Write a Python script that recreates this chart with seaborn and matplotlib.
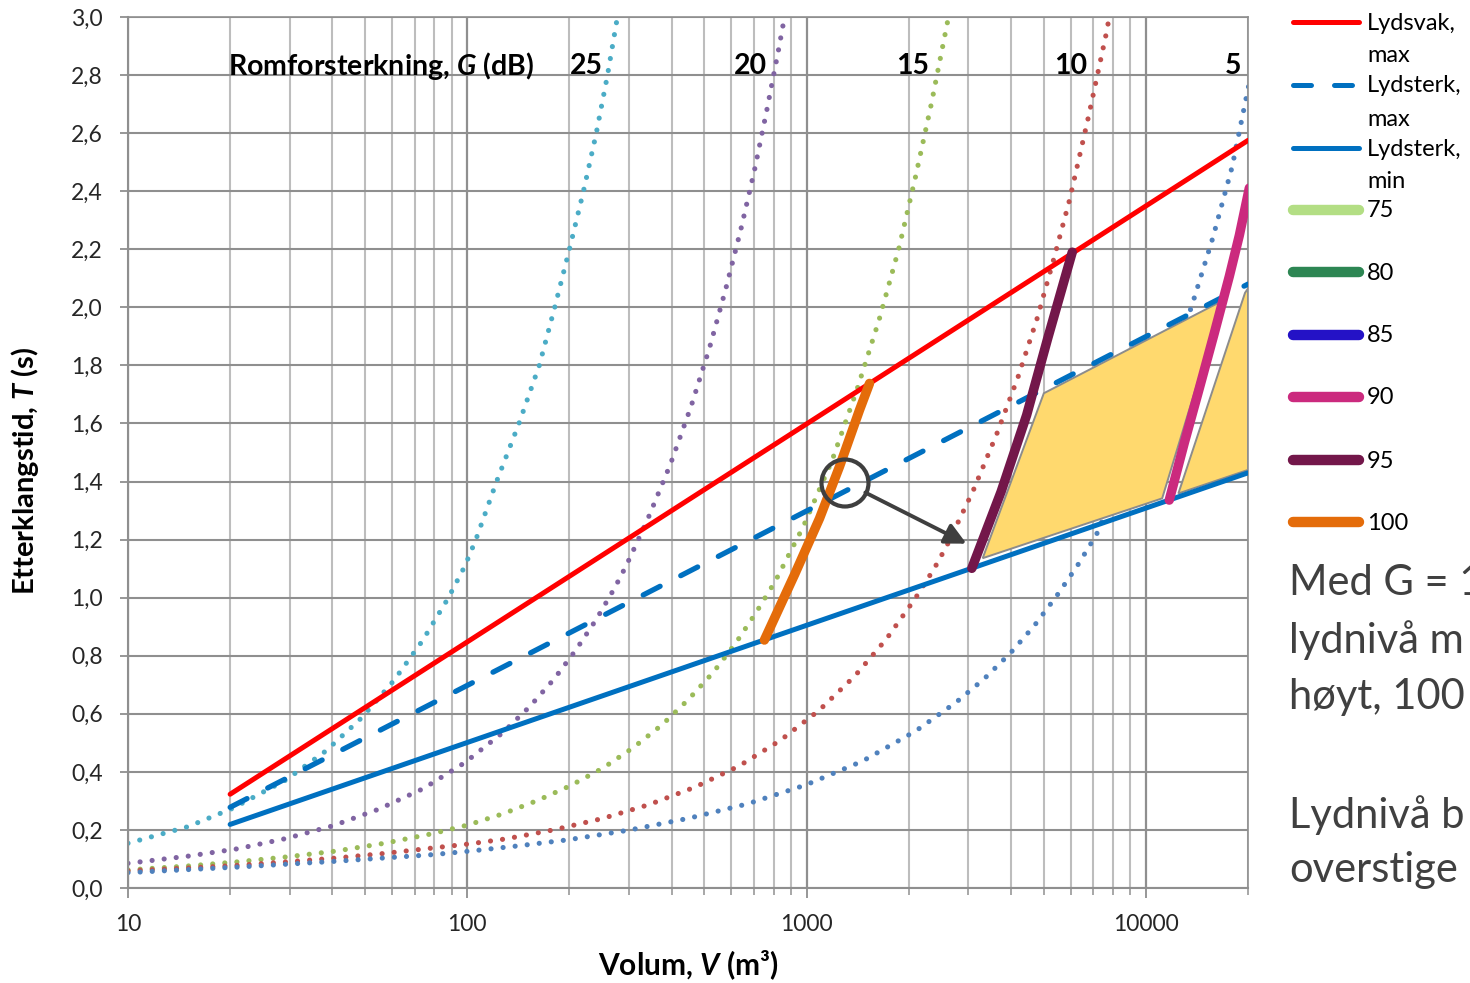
import numpy as np
import pandas as pd
import matplotlib
matplotlib.use("Agg")
import matplotlib.pyplot as plt
import seaborn as sns
from matplotlib.patches import Polygon, Ellipse
from matplotlib.lines import Line2D
from matplotlib.ticker import FixedLocator, FuncFormatter, NullFormatter

sns.set_theme(style="white")
plt.rcParams["font.family"] = ["Lato", "DejaVu Sans"]
plt.rcParams["mathtext.fontset"] = "custom"
plt.rcParams["mathtext.it"] = "Lato:italic:bold"
plt.rcParams["mathtext.rm"] = "Lato:bold"
plt.rcParams["mathtext.bf"] = "Lato:bold"

# ---------------- data ----------------
# Room gain curves G = 25, 20, 15, 10, 5 dB  (volume V in m3, reverberation time T in s)
g25_v = [10, 15, 20.3, 29.2, 38.3, 49, 60.7, 73.8, 87.7, 98.4, 106, 122, 142, 163, 181, 200, 220, 240, 259, 277]
g25_t = [0.154, 0.211, 0.274, 0.372, 0.472, 0.588, 0.714, 0.852, 0.997, 1.109, 1.2, 1.4, 1.6, 1.8, 2.0, 2.2, 2.4, 2.6, 2.8, 3.0]

g20_v = [10, 15.1, 21, 29.1, 40.1, 54.7, 74.1, 98.4, 127.5, 152.5, 180, 209, 240, 272, 294, 339, 397, 457, 518, 578, 640, 703, 764, 827, 861]
g20_t = [0.085, 0.110, 0.135, 0.170, 0.214, 0.271, 0.342, 0.432, 0.536, 0.624, 0.719, 0.820, 0.925, 1.034, 1.110, 1.266, 1.46, 1.66, 1.862, 2.064, 2.268, 2.475, 2.681, 2.888, 3.0]

g15_v = [10, 15.1, 21, 29.3, 40.9, 56.9, 78.8, 100.4, 127, 160.7, 201, 251, 308, 375, 449, 531, 618, 711, 809, 979, 1190, 1409, 1636, 1870, 2095, 2329, 2620]
g15_t = [0.062, 0.076, 0.090, 0.107, 0.127, 0.154, 0.187, 0.217, 0.255, 0.301, 0.352, 0.413, 0.483, 0.562, 0.650, 0.743, 0.843, 0.950, 1.057, 1.246, 1.474, 1.718, 1.957, 2.202, 2.450, 2.698, 3.0]

g10_v = [10, 15.1, 21, 29.3, 40.9, 56.9, 79.3, 101.6, 129.7, 181, 249.6, 343, 468, 632, 838, 1089, 1387, 1720, 2090, 2377, 2588, 3096, 3633, 4200, 4782, 5349, 5958, 6776, 7656, 7800]
g10_t = [0.059, 0.069, 0.078, 0.090, 0.103, 0.119, 0.138, 0.152, 0.169, 0.201, 0.239, 0.287, 0.347, 0.420, 0.509, 0.612, 0.730, 0.858, 0.997, 1.100, 1.178, 1.368, 1.563, 1.760, 1.962, 2.165, 2.370, 2.657, 2.947, 3.0]

g5_v = [10, 21, 40.9, 79.3, 101.6, 141, 198, 298.5, 449, 671, 995, 1462, 2099, 2761, 3334, 3988, 4701, 5458, 6282, 7163, 13590, 15740, 17950, 20180]
g5_t = [0.053, 0.072, 0.092, 0.115, 0.127, 0.145, 0.166, 0.199, 0.240, 0.290, 0.355, 0.437, 0.541, 0.640, 0.720, 0.809, 0.905, 1.006, 1.110, 1.219, 1.997, 2.238, 2.483, 2.774]

gain_labels = ["25", "20", "15", "10", "5"]
gain_label_v = [251, 765, 2300, 6700, 19100]

# Limit lines
lim_v = [20, 20000]
lydsvak_max_t = [0.323, 2.575]
lydsterk_max_t = [0.278, 2.080]
lydsterk_min_t = [0.219, 1.430]

# Sound level segments (dB)
seg100_v = [751, 923, 1092, 1250, 1432, 1533]
seg100_t = [0.854, 1.081, 1.273, 1.451, 1.646, 1.738]
seg95_v = [3069, 3744, 4453, 5137, 6068]
seg95_t = [1.101, 1.365, 1.629, 1.893, 2.190]
seg90_v = [11720, 12980, 14380, 15910, 17620, 18860, 20180]
seg90_t = [1.336, 1.533, 1.722, 1.911, 2.107, 2.248, 2.411]

# Highlighted areas
area1_v = [3304, 5003, 16830, 11170]
area1_t = [1.136, 1.704, 2.023, 1.342]
area2_v = [12470, 19600, 20000, 20000]
area2_t = [1.359, 2.050, 2.065, 1.440]

legend_labels = [["Lydsvak,", "max"], ["Lydsterk,", "max"], ["Lydsterk,", "min"],
                 ["75"], ["80"], ["85"], ["90"], ["95"], ["100"]]
side_text = ["Med G = 1", "lydnivå m", "høyt, 100", "", "Lydnivå b", "overstige"]

# ---------------- styling ----------------
c_g = {"25": "#4BACC6", "20": "#8064A2", "15": "#9BBB59", "10": "#C0504D", "5": "#4F81BD"}
c_red = "#FF0000"
c_blue = "#0070C0"
c_75, c_80, c_85, c_90, c_95, c_100 = "#B3DE84", "#2D8653", "#2412C6", "#CB2A7E", "#73174A", "#E46C0A"

W, H = 1470, 983
fig = plt.figure(figsize=(W / 100, H / 100), dpi=100)
fig.patch.set_facecolor("white")
L, R, TOP, BOT = 128, 1248, 17, 888
ax = fig.add_axes([L / W, 1 - BOT / H, (R - L) / W, (BOT - TOP) / H])
ax.set_facecolor("white")
ax.set_xscale("log")
ax.set_xlim(10, 20000)
ax.set_ylim(0, 3.0)

# grid
ax.yaxis.set_major_locator(FixedLocator(np.round(np.arange(0, 3.01, 0.2), 1)))
ax.xaxis.set_major_locator(FixedLocator([10, 100, 1000, 10000]))
minors = [m * 10 ** e for e in range(1, 5) for m in range(2, 10) if m * 10 ** e <= 20000]
ax.xaxis.set_minor_locator(FixedLocator(minors))
ax.xaxis.set_minor_formatter(NullFormatter())
ax.grid(True, which="major", axis="y", color="#8F8F8F", lw=1.5, zorder=0)
ax.grid(True, which="major", axis="x", color="#8F8F8F", lw=1.6, zorder=0)
ax.grid(True, which="minor", axis="x", color="#BDBDBD", lw=1.5, zorder=0)
ax.set_axisbelow(True)
for s in ["left", "bottom"]:
    ax.spines[s].set_color("#8F8F8F")
    ax.spines[s].set_linewidth(1.5)
for s in ["top", "right"]:
    ax.spines[s].set_color("#8F8F8F")
    ax.spines[s].set_linewidth(1.2)

ax.yaxis.set_major_formatter(FuncFormatter(lambda v, p: f"{v:.1f}".replace(".", ",")))
ax.xaxis.set_major_formatter(FuncFormatter(lambda v, p: f"{int(round(v))}"))
ax.tick_params(axis="y", which="major", direction="out", length=6, width=1.3, color="#8F8F8F",
               labelsize=16.5, labelcolor="#262626", pad=12, left=True)
ax.tick_params(axis="x", which="major", direction="out", length=7, width=1.3, color="#8F8F8F",
               labelsize=16.5, labelcolor="#262626", pad=12, bottom=True)
ax.tick_params(axis="x", which="minor", direction="out", length=5, width=1.1, color="#8F8F8F", bottom=True)

# dotted room-gain curves
dot_style = dict(lw=3.7, linestyle=(0, (0.01, 2.35)), dash_capstyle="round", sort=False, estimator=None)
for key, vv, tt in [("25", g25_v, g25_t), ("20", g20_v, g20_t), ("15", g15_v, g15_t),
                    ("10", g10_v, g10_t), ("5", g5_v, g5_t)]:
    df = pd.DataFrame({"V": vv, "T": tt})
    sns.lineplot(data=df, x="V", y="T", ax=ax, color=c_g[key], zorder=2, **dot_style)

# highlighted areas
for av, at in [(area1_v, area1_t), (area2_v, area2_t)]:
    ax.add_patch(Polygon(list(zip(av, at)), closed=True, fc="#FFD96E", ec="#8C8C8C", lw=1.4, zorder=3))

# limit lines
sns.lineplot(x=lim_v, y=lydsvak_max_t, ax=ax, color=c_red, lw=3.6, zorder=4)
sns.lineplot(x=lim_v, y=lydsterk_max_t, ax=ax, color=c_blue, lw=3.8, zorder=4,
             linestyle=(0, (3.6, 4.4)), dash_capstyle="round")
sns.lineplot(x=lim_v, y=lydsterk_min_t, ax=ax, color=c_blue, lw=3.6, zorder=4)

# level segments
thick = dict(lw=6.8, solid_capstyle="round", solid_joinstyle="round", sort=False, estimator=None, zorder=5)
sns.lineplot(x=seg100_v, y=seg100_t, ax=ax, color=c_100, **thick)
sns.lineplot(x=seg95_v, y=seg95_t, ax=ax, color=c_95, **thick)
sns.lineplot(x=seg90_v, y=seg90_t, ax=ax, color=c_90, **thick)

if ax.get_legend() is not None:
    ax.get_legend().remove()
ax.set_xlim(10, 20000)
ax.set_ylim(0, 3.0)
ax.set_xlabel("")
ax.set_ylabel("")

# annotation circle + arrow
ax.add_patch(Ellipse(((845 - L) / (R - L), (BOT - 483) / (BOT - TOP)), 47 / (R - L), 47 / (BOT - TOP),
                     transform=ax.transAxes, fill=False, ec="#3F3F3F", lw=3.0, zorder=6))
ax.annotate("", xy=(2960, 1.186), xytext=(1490, 1.362),
            arrowprops=dict(arrowstyle="-|>", color="#3F3F3F", lw=2.8, mutation_scale=32,
                            shrinkA=0, shrinkB=0), zorder=6)

# G labels at top
ax.text(19.7, 2.83, r"Romforsterkning, $G$ (dB)", fontsize=20.5, fontweight="bold", ha="left", va="center",
        color="black", zorder=7)
for lab, lv in zip(gain_labels, gain_label_v):
    ax.text(lv, 2.83, lab, fontsize=20.5, fontweight="bold", ha="right", va="center", color="black", zorder=7)

# axis labels
fig.text(25 / W, 1 - 471 / H, r"Etterklangstid, $T$ (s)", rotation=90, fontsize=21, fontweight="bold",
         ha="center", va="center", color="black")
fig.text(688 / W, 1 - 965 / H, r"Volum, $V$ (m³)", fontsize=21.5, fontweight="bold",
         ha="center", va="center", color="black")

# legend (drawn manually to match layout)
handles = [dict(color=c_red, lw=3.6, ls="-"), dict(color=c_blue, lw=3.6, ls=(0, (3.6, 4.6))),
           dict(color=c_blue, lw=3.6, ls="-"), dict(color=c_75, lw=7.5, ls="-"),
           dict(color=c_80, lw=7.5, ls="-"), dict(color=c_85, lw=7.5, ls="-"),
           dict(color=c_90, lw=7.5, ls="-"), dict(color=c_95, lw=7.5, ls="-"),
           dict(color=c_100, lw=7.5, ls="-")]
ys = [22, 85, 148, 210, 272, 335, 397, 460, 522]
for h, y, labs in zip(handles, ys, legend_labels):
    fig.add_artist(Line2D([1293 / W, 1359 / W], [1 - y / H, 1 - y / H], color=h["color"], lw=h["lw"],
                          linestyle=h["ls"], solid_capstyle="round", dash_capstyle="round",
                          transform=fig.transFigure))
    for i, t in enumerate(labs):
        fig.text(1367 / W, 1 - (y + 1 + 33 * i) / H, t, fontsize=17, color="black", ha="left", va="center")

# side text (runs off the image edge, as in the reference)
side_y = [583, 640, 697, 756, 815, 870]
for t, y in zip(side_text, side_y):
    if t:
        fig.text(1289 / W, 1 - y / H, t, fontsize=30, color="#404040", ha="left", va="center")

fig.savefig("out.png", dpi=100)
